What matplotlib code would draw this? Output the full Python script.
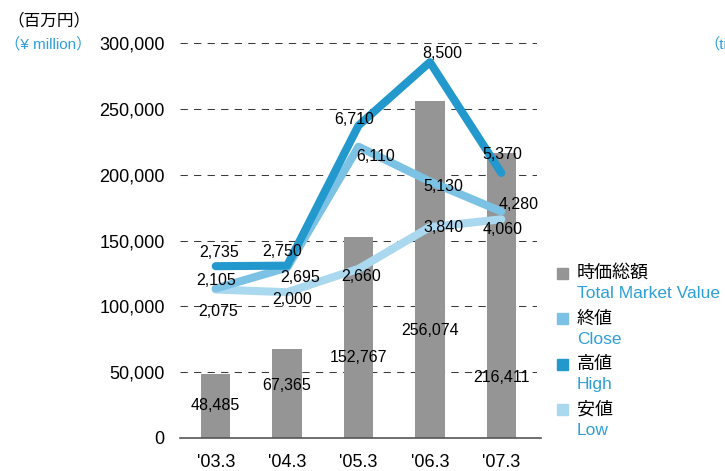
import numpy as np
import matplotlib.pyplot as plt

plt.rcParams['font.family'] = ['Liberation Sans', 'Noto Sans CJK JP', 'DejaVu Sans']

years = ["'03.3", "'04.3", "'05.3", "'06.3", "'07.3"]
market_value = [48485, 67365, 152767, 256074, 216411]
close = [2105, 2695, 6110, 5130, 4280]
high = [2735, 2750, 6710, 8500, 5370]
low = [2075, 2000, 2660, 3840, 4060]

# label placement (left axis units for bars, pixel offsets for lines)
bar_label_y = [25000, 40000, 61500, 82000, 46000]
high_off = [(3, 14), (-5, 14), (-4, 6), (12, 9), (1, 18)]
close_off = [(0, 8), (13, -10), (17, -10), (13, -5), (17, 7)]
low_off = [(2, -22), (5, -7), (3, -8), (14, 0), (1, -10)]

c_bar = '#959595'
c_high = '#2298cc'
c_close = '#7cc2e4'
c_low = '#aad8ef'
c_blue = '#2ea0d6'

fig = plt.figure(figsize=(7.25, 4.71), dpi=100)
ax = fig.add_axes([180/725, 33/471, 357/725, 395/471])
x = np.arange(len(years))

ax.bar(x, market_value, width=0.41, color=c_bar, zorder=2)
for yv in range(50000, 300001, 50000):
    ax.axhline(yv, color='#3a3a3a', lw=0.75, ls=(0, (7, 6)), zorder=1)
ax.set_xlim(-0.5, 4.5)
ax.set_ylim(0, 300000)
ax.set_yticks(range(0, 300001, 50000))
ax.set_yticklabels([f'{v:,}' for v in range(0, 300001, 50000)], fontsize=13)
ax.set_xticks(x)
ax.set_xticklabels(years, fontsize=13)
ax.tick_params(length=0, pad=11, axis='y')
ax.tick_params(length=0, pad=11.5, axis='x')
for s in ['left', 'right', 'top']:
    ax.spines[s].set_visible(False)
ax.spines['bottom'].set_color('#555555')
ax.spines['bottom'].set_linewidth(1.2)
ax.spines['bottom'].set_bounds(-0.5, 4.55)

for i in range(len(years)):
    ax.text(x[i], bar_label_y[i], f'{market_value[i]:,}', ha='center', va='center',
            fontsize=11.5, zorder=5)

ax2 = ax.twinx()
ax2.set_ylim(-2119, 9040)
ax2.axis('off')
ax2.plot(x, low, color=c_low, lw=5.8, solid_capstyle='round', solid_joinstyle='round', zorder=2)
ax2.plot(x, close, color=c_close, lw=5.8, solid_capstyle='round', solid_joinstyle='round', zorder=3)
ax2.plot(x, high, color=c_high, lw=5.8, solid_capstyle='round', solid_joinstyle='round', zorder=4)

for vals, offs in [(high, high_off), (close, close_off), (low, low_off)]:
    for i in range(len(years)):
        ax2.annotate(f'{vals[i]:,}', (x[i], vals[i]), xytext=offs[i],
                     textcoords='offset pixels', ha='center', va='center',
                     fontsize=11.5, zorder=6)

# axis captions
fig.text(91/725, 1 - 21/471, '（百万円）', ha='right', va='center', fontsize=12,
         family=['Noto Sans CJK JP'])
fig.text(91/725, 1 - 44/471, '（¥ million）', ha='right', va='center', fontsize=11,
         color=c_blue)
fig.text(722/725, 1 - 20/471, '（倍）', ha='left', va='center', fontsize=12, color='#555555',
         family=['Noto Sans CJK JP'])
fig.text(704/725, 1 - 44/471, '（times）', ha='left', va='center', fontsize=11, color=c_blue)

# legend
legend_items = [('時価総額', 'Total Market Value', c_bar),
                ('終値', 'Close', c_close),
                ('高値', 'High', c_high),
                ('安値', 'Low', c_low)]
for k, (jp, en, col) in enumerate(legend_items):
    yc = 273 + 45.5 * k
    fig.patches.append(plt.Rectangle((557/725, 1 - (yc + 5.5)/471), 11/725, 11/471,
                                     transform=fig.transFigure, color=col))
    fig.text(577/725, 1 - yc/471, jp, ha='left', va='center', fontsize=13,
             family=['Noto Sans CJK JP'])
    fig.text(577/725, 1 - (yc + 21)/471, en, ha='left', va='center', fontsize=12.5,
             color=c_blue)

fig.savefig('out.png', dpi=100)
